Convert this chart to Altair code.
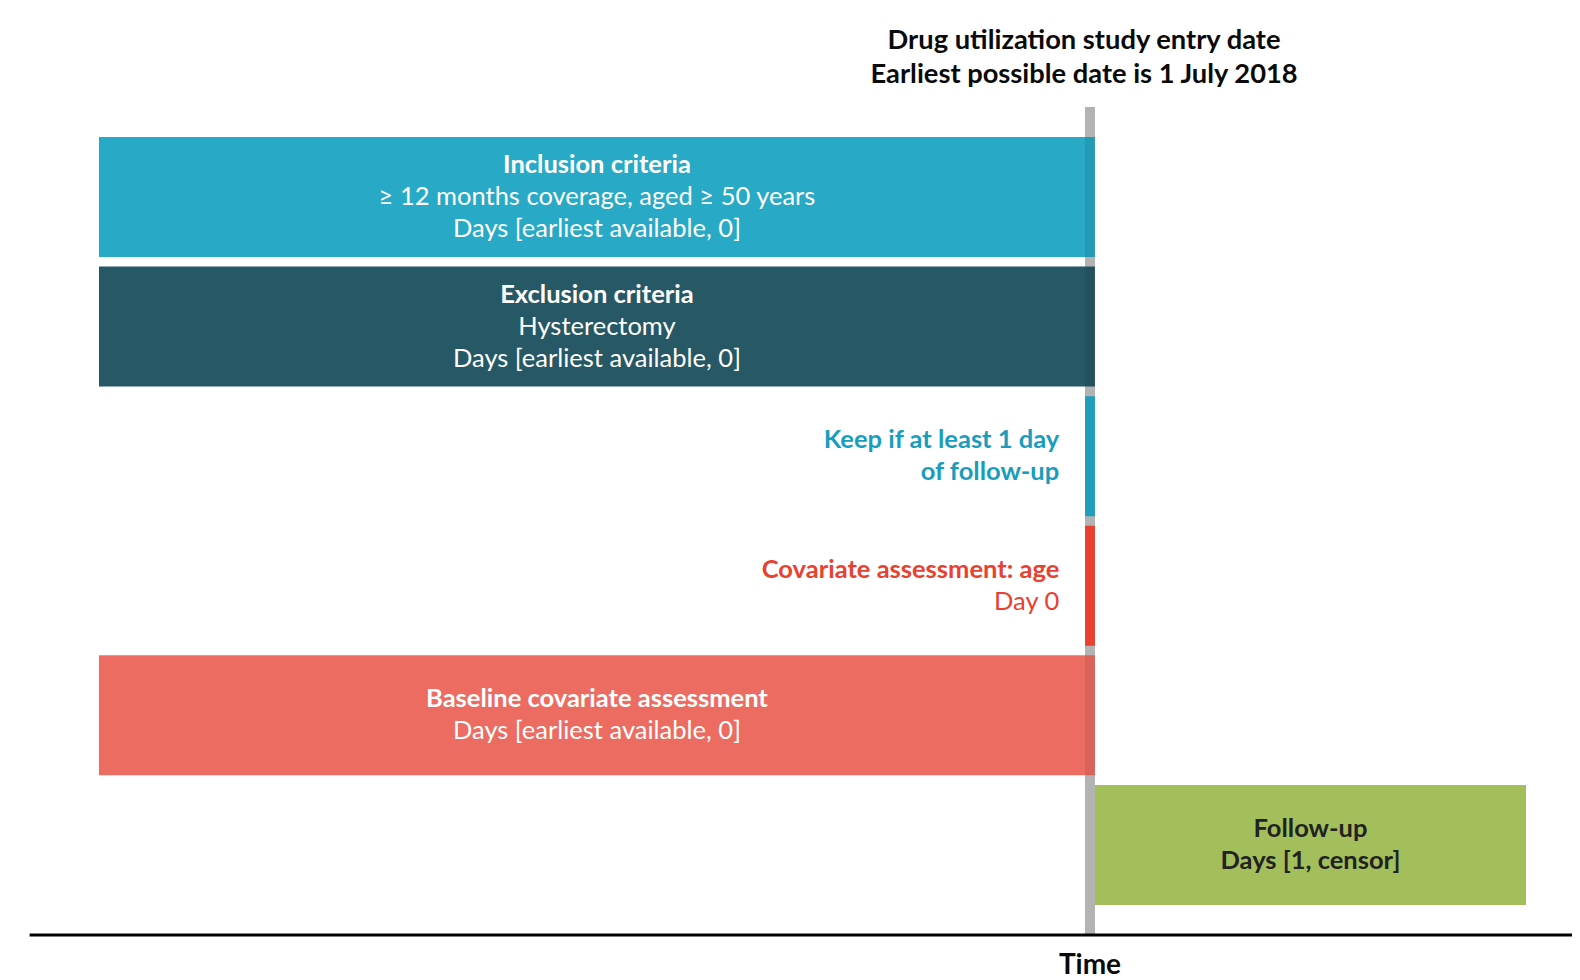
import altair as alt
import pandas as pd

# ---------------- data ----------------
# timeline units: day 0 = study entry date; -100 = "earliest available"; 44 = censor (schematic)
bar_names = ["Inclusion criteria", "Exclusion criteria", "Keep if at least 1 day of follow-up",
             "Covariate assessment: age", "Baseline covariate assessment", "Follow-up"]
bar_start = [-100, -100, -0.5, -0.5, -100, 0.5]
bar_end = [0.5, 0.5, 0.5, 0.5, 0.5, 44]
bar_row = [0, 1, 2, 3, 4, 5]
bar_color = ["#28A9C5", "#275865", "#1F9FBC", "#E8412F", "#ED6C61", "#A2BF5B"]
bar_narrow = [False, False, True, True, False, False]

line_text = [
    "Inclusion criteria", "≥ 12 months coverage, aged ≥ 50 years", "Days [earliest available, 0]",
    "Exclusion criteria", "Hysterectomy", "Days [earliest available, 0]",
    "Keep if at least 1 day", "of follow-up",
    "Covariate assessment: age", "Day 0",
    "Baseline covariate assessment", "Days [earliest available, 0]",
    "Follow-up", "Days [1, censor]",
]
line_row = [0, 0, 0, 1, 1, 1, 2, 2, 3, 3, 4, 4, 5, 5]
line_idx = [0, 1, 2, 0, 1, 2, 0, 1, 0, 1, 0, 1, 0, 1]
line_n = [3, 3, 3, 3, 3, 3, 2, 2, 2, 2, 2, 2, 2, 2]
line_x = [-49.75] * 6 + [-3.1] * 4 + [-49.75] * 2 + [22.25] * 2
line_style = ["bc", "nc", "nc", "bc", "nc", "nc", "br", "br", "br", "nr", "bc", "nc", "bc", "bc"]
line_color = ["#FFFFFF"] * 6 + ["#1A9DBD"] * 2 + ["#E8412F"] * 2 + ["#FFFFFF"] * 2 + ["#222222"] * 2

title_lines = ["Drug utilization study entry date", "Earliest possible date is 1 July 2018"]
title_idx = [0, 1]
title_x = -0.6
title_row = -1.07

axis_label = "Time"
entry_day = 0
axis_start, axis_end = -107, 50
rule_top, axis_y = -0.694, 5.695
time_y = 5.995

# ---------------- build ----------------
PX_ROW = 129.6
ROW_LH = 32 / PX_ROW
TITLE_LH = 34 / PX_ROW

bars = pd.DataFrame({"name": bar_names, "start": bar_start, "end": bar_end,
                     "row": bar_row, "color": bar_color, "narrow": bar_narrow})
bars["y0"] = bars["row"] - 60 / PX_ROW
bars["y1"] = bars["row"] + 60 / PX_ROW

lines = pd.DataFrame({"text": line_text, "row": line_row, "idx": line_idx, "n": line_n,
                      "x": line_x, "style": line_style, "color": line_color})
lines["y"] = lines["row"] + (lines["idx"] - (lines["n"] - 1) / 2) * ROW_LH

titles = pd.DataFrame({"text": title_lines, "idx": title_idx})
titles["x"] = title_x
titles["y"] = title_row + (titles["idx"] - 0.5) * TITLE_LH

H = 972
xs = alt.Scale(domain=[-109.18, 48.64], nice=False, zero=False)
ys = alt.Scale(domain=[-1.458, -1.458 + H / PX_ROW], nice=False, zero=False, reverse=True)
X = lambda f: alt.X(f, type="quantitative", scale=xs, axis=None)
Y = lambda f: alt.Y(f, type="quantitative", scale=ys, axis=None)

FONT = "Lato"
rule_df = pd.DataFrame({"x": [entry_day], "y": [rule_top], "y2": [axis_y]})

gray = alt.Chart(rule_df).mark_rule(color="#C3C3C3", strokeWidth=10).encode(
    x=X("x"), y=Y("y"), y2="y2")

wide_rects = alt.Chart(bars).transform_filter(~alt.datum.narrow).mark_rect().encode(
    x=X("start"), x2="end", y=Y("y0"), y2="y1",
    color=alt.Color("color:N", scale=None))

shade = alt.Chart(rule_df).mark_rule(color="#000000", strokeWidth=10, opacity=0.08).encode(
    x=X("x"), y=Y("y"), y2="y2")

narrow_rects = alt.Chart(bars).transform_filter(alt.datum.narrow).mark_rect().encode(
    x=X("start"), x2="end", y=Y("y0"), y2="y1",
    color=alt.Color("color:N", scale=None))

axis_line = alt.Chart(pd.DataFrame({"x": [axis_start], "x2": [axis_end], "y": [axis_y]})).mark_rule(
    color="#000000", strokeWidth=3).encode(x=X("x"), x2="x2", y=Y("y"))

def text_layer(style, weight, align):
    return alt.Chart(lines).transform_filter(alt.datum.style == style).mark_text(
        font=FONT, fontSize=25.5, fontWeight=weight, align=align, baseline="middle").encode(
        x=X("x"), y=Y("y"), text="text:N", color=alt.Color("color:N", scale=None))

t_bc = text_layer("bc", "bold", "center")
t_nc = text_layer("nc", "normal", "center")
t_br = text_layer("br", "bold", "right")
t_nr = text_layer("nr", "normal", "right")

title = alt.Chart(titles).mark_text(font=FONT, fontSize=27.3, fontWeight="bold",
                                    align="center", baseline="middle", color="#0A0A0A").encode(
    x=X("x"), y=Y("y"), text="text:N")

time_lbl = alt.Chart(pd.DataFrame({"text": [axis_label], "x": [entry_day], "y": [time_y]})).mark_text(
    font=FONT, fontSize=28, fontWeight="bold", align="center", baseline="alphabetic",
    color="#0A0A0A").encode(x=X("x"), y=Y("y"), text="text:N")

chart = alt.layer(gray, wide_rects, shade, narrow_rects, axis_line,
                  t_bc, t_nc, t_br, t_nr, title, time_lbl).properties(
    width=1564, height=H, autosize=alt.AutoSizeParams(type="none"), padding=0,
    background="#FFFFFF").configure_view(stroke=None)

chart.save("out.html", embed_options={"renderer": "svg", "actions": False})
